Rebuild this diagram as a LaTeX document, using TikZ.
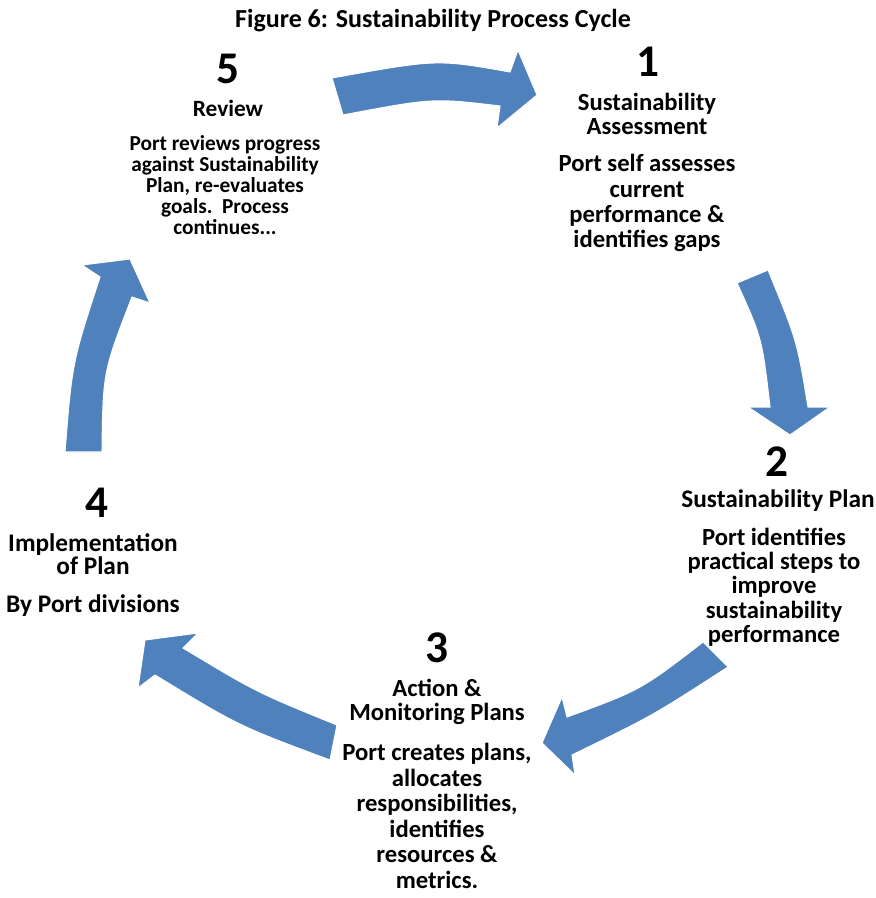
\documentclass[tikz,border=0pt]{standalone}
\usepackage{fontspec}
\setmainfont{Carlito}
\definecolor{arrowblue}{RGB}{79,129,189}
\begin{document}
\begin{tikzpicture}[x=0.75pt,y=-0.75pt,
  blockarrow/.style={fill=arrowblue,draw=white,line width=0.8pt,line join=miter},
  numtxt/.style={font=\bfseries\fontsize{34}{34}\selectfont,inner sep=0pt},
  headtxt/.style={font=\bfseries\fontsize{18.5}{17.5}\selectfont,align=center,inner sep=0pt},
  bodytxt/.style={font=\bfseries\fontsize{18.5}{18.8}\selectfont,align=center,inner sep=0pt},
  titletxt/.style={font=\bfseries\fontsize{19.5}{22}\selectfont,inner sep=0pt}]
\useasboundingbox (0,0) rectangle (875,898);

% arrows
\path[blockarrow] (332,78) .. controls (437,59) .. (510,72) -- (518,50) -- (537,95) -- (497,128) -- (500,106) .. controls (433,98) .. (343,115) -- cycle;
\path[blockarrow] (768,270) .. controls (797,340.5) .. (808,407) -- (830,407) -- (790,435) -- (748,407) -- (770,407) .. controls (762,338) .. (737,283) -- cycle;
\path[blockarrow] (728,667) .. controls (652.7,715.7) .. (572,755) -- (575,775) -- (542,743) -- (562,697) -- (567,717) .. controls (640.7,690) .. (703,642) -- cycle;
\path[blockarrow] (337,725) .. controls (257,692.5) .. (183,648) -- (198,633) -- (145,640) -- (138,688) -- (155,675) .. controls (238.4,725.9) .. (330,760) -- cycle;
\path[blockarrow] (65,452) .. controls (72.1,362.5) .. (100,277) -- (82,265) -- (130,259) -- (150,303) -- (132,297) .. controls (103,371.9) .. (102,452) -- cycle;

% title
\node[titletxt] (title) at (433,21) {Figure 6: Sustainability Process Cycle};

% step 5
\node[numtxt] (n5num) at (228,69) {5};
\node[headtxt,font=\bfseries\fontsize{17.5}{17.5}\selectfont] (n5head) at (228,108) {Review};
\node[bodytxt,font=\bfseries\fontsize{16}{15.6}\selectfont] (n5body) at (225,185) {Port reviews progress\\against Sustainability\\Plan, re-evaluates\\goals.\ \ Process\\continues...};

% step 1
\node[numtxt] (n1num) at (648,62) {1};
\node[headtxt] (n1head) at (647,114) {Sustainability\\Assessment};
\node[bodytxt] (n1body) at (647,203) {Port self assesses\\current\\performance \&\\identifies gaps};

% step 2
\node[numtxt] (n2num) at (777,462) {2};
\node[headtxt,font=\bfseries\fontsize{19}{18}\selectfont] (n2head) at (778,501) {Sustainability Plan};
\node[bodytxt,font=\bfseries\fontsize{18.5}{18.2}\selectfont] (n2body) at (774,587) {Port identifies\\practical steps to\\improve\\sustainability\\performance};

% step 3
\node[numtxt] (n3num) at (437,648) {3};
\node[headtxt] (n3head) at (437,702) {Action \&\\Monitoring Plans};
\node[bodytxt,font=\bfseries\fontsize{18.5}{19.2}\selectfont] (n3body) at (437,816) {Port creates plans,\\allocates\\responsibilities,\\identifies\\resources \&\\metrics.};

% step 4
\node[numtxt] (n4num) at (97,503) {4};
\node[headtxt,font=\bfseries\fontsize{19}{17.5}\selectfont] (n4head) at (93,554) {Implementation\\of Plan};
\node[bodytxt,font=\bfseries\fontsize{19}{19}\selectfont] (n4body) at (93,606) {By Port divisions};
\end{tikzpicture}
\end{document}
